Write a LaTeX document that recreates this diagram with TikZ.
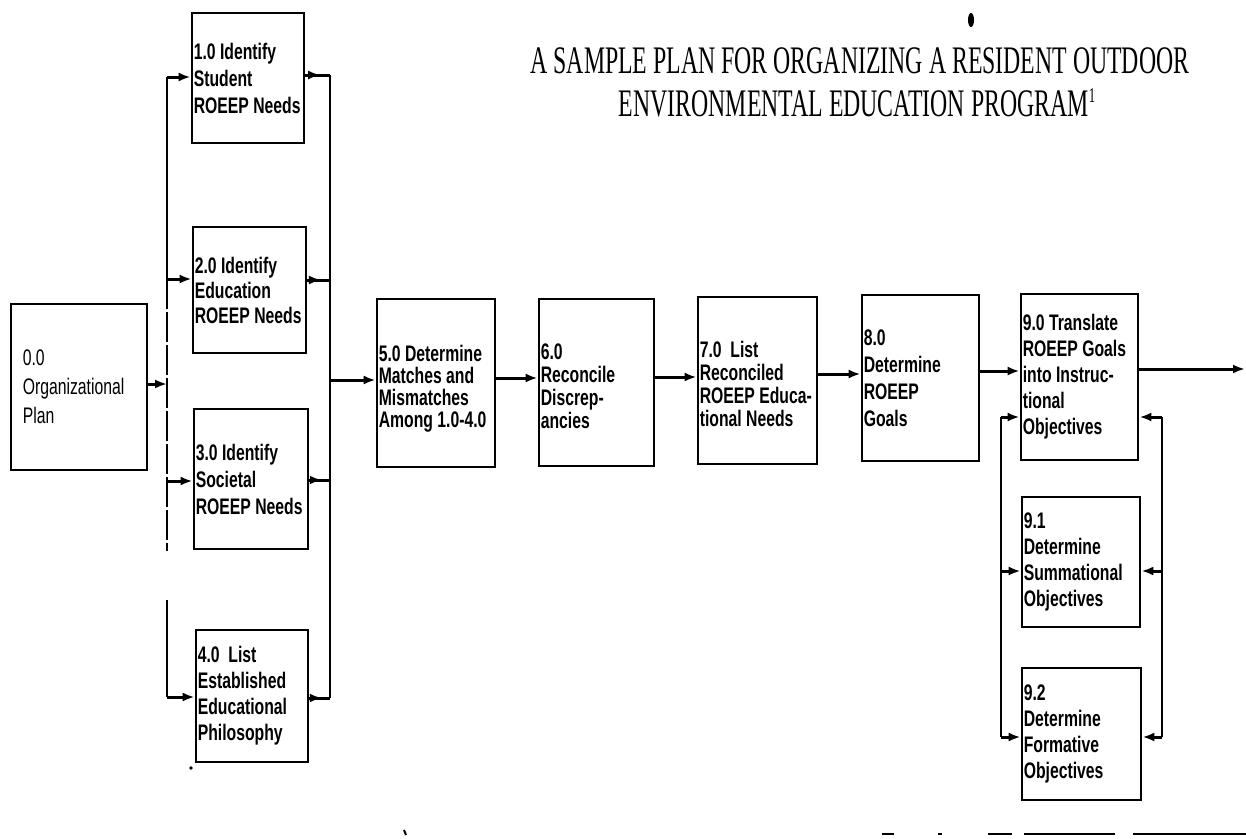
\documentclass[tikz,border=0pt]{standalone}
\usepackage{fontspec}
\newfontfamily\boxfont{Liberation Sans}[FakeStretch=0.70]
\newfontfamily\titlefont{Liberation Serif}[FakeStretch=0.61]
\usetikzlibrary{arrows.meta,decorations.markings}
\tikzset{
  box/.style={draw, line width=2.8pt, inner sep=0pt},
  lbl/.style={anchor=west, align=left, inner sep=0pt, font=\boxfont\bfseries\fontsize{22.5pt}{25pt}\selectfont},
  ttl/.style={inner sep=0pt, anchor=base, text height=27pt, text depth=1pt, font=\titlefont\fontsize{39pt}{39pt}\selectfont},
  conn/.style={line width=3pt},
  arr/.style={-{Latex[length=12pt,width=9pt]}},
  midarr/.style={postaction={decorate}, decoration={markings, mark=at position 0.6 with {\arrow{Latex[length=12pt,width=9pt]}}}},
}
\begin{document}
\begin{tikzpicture}[x=1pt,y=-1pt]
\useasboundingbox (0,0) rectangle (1246,838);
% title
\node[ttl] (title1) at (860,73) {A SAMPLE PLAN FOR ORGANIZING A RESIDENT OUTDOOR};
\node[ttl] (title2) at (857,116) {ENVIRONMENTAL EDUCATION PROGRAM\raisebox{14pt}{\fontsize{21pt}{21pt}\selectfont 1}};
\fill (971,20) ellipse (3pt and 7pt);
% boxes
\node[box, minimum width=136pt, minimum height=166pt] (b0) at (79,387) {};
\node[box, minimum width=112pt, minimum height=130pt] (b1) at (248,78) {};
\node[box, minimum width=113pt, minimum height=126pt] (b2) at (249.5,290) {};
\node[box, minimum width=114pt, minimum height=140pt] (b3) at (251,479) {};
\node[box, minimum width=112pt, minimum height=132pt] (b4) at (252,696) {};
\node[box, minimum width=118pt, minimum height=168pt] (b5) at (436,383) {};
\node[box, minimum width=115pt, minimum height=167pt] (b6) at (596.5,382.5) {};
\node[box, minimum width=119pt, minimum height=167pt] (b7) at (757.5,380.5) {};
\node[box, minimum width=117pt, minimum height=166pt] (b8) at (920.5,378) {};
\node[box, minimum width=117pt, minimum height=166pt] (b9) at (1079.5,377) {};
\node[box, minimum width=118pt, minimum height=130pt] (b91) at (1081,562) {};
\node[box, minimum width=119pt, minimum height=132pt] (b92) at (1081.5,734) {};
% labels
\node[lbl, font=\boxfont\fontsize{22.5pt}{29pt}\selectfont] (t0) at ([xshift=13pt]b0.west) {0.0\\Organizational\\Plan};
\node[lbl, font=\boxfont\bfseries\fontsize{22.5pt}{27pt}\selectfont] (t1) at ([xshift=3pt]b1.west) {1.0 Identify\\Student\\ROEEP Needs};
\node[lbl] (t2) at ([xshift=3pt]b2.west) {2.0 Identify\\Education\\ROEEP Needs};
\node[lbl, font=\boxfont\bfseries\fontsize{22.5pt}{27pt}\selectfont] (t3) at ([xshift=3pt]b3.west) {3.0 Identify\\Societal\\ROEEP Needs};
\node[lbl, font=\boxfont\bfseries\fontsize{22.5pt}{26pt}\selectfont] (t4) at ([xshift=3pt]b4.west) {4.0 \ List\\Established\\Educational\\Philosophy};
\node[lbl, font=\boxfont\bfseries\fontsize{22.5pt}{22pt}\selectfont] (t5) at ([xshift=3pt,yshift=-6pt]b5.west) {5.0 Determine\\Matches and\\Mismatches\\Among 1.0-4.0};
\node[lbl, font=\boxfont\bfseries\fontsize{22.5pt}{23pt}\selectfont] (t6) at ([xshift=3pt,yshift=-4pt]b6.west) {6.0\\Reconcile\\Discrep-\\ancies};
\node[lbl, font=\boxfont\bfseries\fontsize{22.5pt}{23pt}\selectfont] (t7) at ([xshift=3pt,yshift=-3pt]b7.west) {7.0 \ List\\Reconciled\\ROEEP Educa-\\tional Needs};
\node[lbl, font=\boxfont\bfseries\fontsize{22.5pt}{27pt}\selectfont] (t8) at ([xshift=3pt]b8.west) {8.0\\Determine\\ROEEP\\Goals};
\node[lbl, font=\boxfont\bfseries\fontsize{22.5pt}{26pt}\selectfont] (t9) at ([xshift=3pt]b9.west) {9.0 Translate\\ROEEP Goals\\into Instruc-\\tional\\Objectives};
\node[lbl, font=\boxfont\bfseries\fontsize{22.5pt}{26pt}\selectfont] (t91) at ([xshift=3pt]b91.west) {9.1\\Determine\\Summational\\Objectives};
\node[lbl, font=\boxfont\bfseries\fontsize{22.5pt}{26pt}\selectfont] (t92) at ([xshift=3pt]b92.west) {9.2\\Determine\\Formative\\Objectives};
% left bus
\coordinate (L0) at (167,384);
\coordinate (L1) at (167,77);
\coordinate (L2) at (167,279);
\coordinate (L3) at (167,481);
\coordinate (L4) at (167,697);
\coordinate (Lg1) at (167,551);
\coordinate (Lg2) at (167,600);
\draw[conn,arr] (b0.east |- L0) -- (L0);
\draw[line width=2.4pt] (L1) -- (L2);
\draw[line width=2.4pt, dash pattern=on 30pt off 3pt] (L2) -- (Lg1);
\draw[line width=2.4pt] (Lg2) -- (L4);
\draw[conn,arr] (L1) -- (L1 -| b1.west);
\draw[conn,arr] (L2) -- (L2 -| b2.west);
\draw[conn,arr] (L3) -- (L3 -| b3.west);
\draw[conn,arr] (L4) -- (L4 -| b4.west);
\fill (191,768) circle (1.8pt);
% right bus
\coordinate (R1) at (330,75);
\coordinate (R2) at (330,280);
\coordinate (R3) at (330,480);
\coordinate (R4) at (330,698);
\coordinate (R0) at (330,380);
\draw[line width=2.8pt] (R1) -- (R4);
\draw[conn,midarr] (R1 -| b1.east) -- (R1);
\draw[conn,midarr] (R2 -| b2.east) -- (R2);
\draw[conn,midarr] (R3 -| b3.east) -- (R3);
\draw[conn,midarr] (R4 -| b4.east) -- (R4);
% main chain
\draw[conn,arr] (R0) -- (R0 -| b5.west);
\draw[conn,arr] (b5.east |- 0,378) -- (b6.west |- 0,378);
\draw[conn,arr] (b6.east |- 0,377) -- (b7.west |- 0,377);
\draw[conn,arr] (b7.east |- 0,374) -- (b8.west |- 0,374);
\draw[conn,arr] (b8.east |- 0,371) -- (b9.west |- 0,371);
\coordinate (out) at (1245,369);
\draw[conn,arr] (b9.east |- out) -- (out);
% right loop
\coordinate (P1) at (1001,417);
\coordinate (P2) at (1001,571);
\coordinate (P3) at (1001,737);
\coordinate (Q1) at (1162,417);
\coordinate (Q2) at (1162,571);
\coordinate (Q3) at (1162,737);
\draw[line width=2.6pt] (P1) -- (P3);
\draw[line width=2.6pt] (Q1) -- (Q3);
\draw[conn,arr] (P1) -- (P1 -| b9.west);
\draw[conn,arr] (P2) -- (P2 -| b91.west);
\draw[conn,arr] (P3) -- (P3 -| b92.west);
\draw[conn,arr] (Q1) -- (Q1 -| b9.east);
\draw[conn,arr] (Q2) -- (Q2 -| b91.east);
\draw[conn,arr] (Q3) -- (Q3 -| b92.east);
% stray scan marks at bottom
\draw[line width=2pt] (404,830) -- (406,835);
\draw[line width=2.5pt] (882,834) -- (894,834);
\draw[line width=2pt] (938,834) -- (942,834);
\draw[line width=2.5pt] (988,834) -- (1012,834);
\draw[line width=2.5pt] (1024,834) -- (1115,834);
\draw[line width=2.5pt] (1133,834) -- (1246,834);
\end{tikzpicture}
\end{document}
